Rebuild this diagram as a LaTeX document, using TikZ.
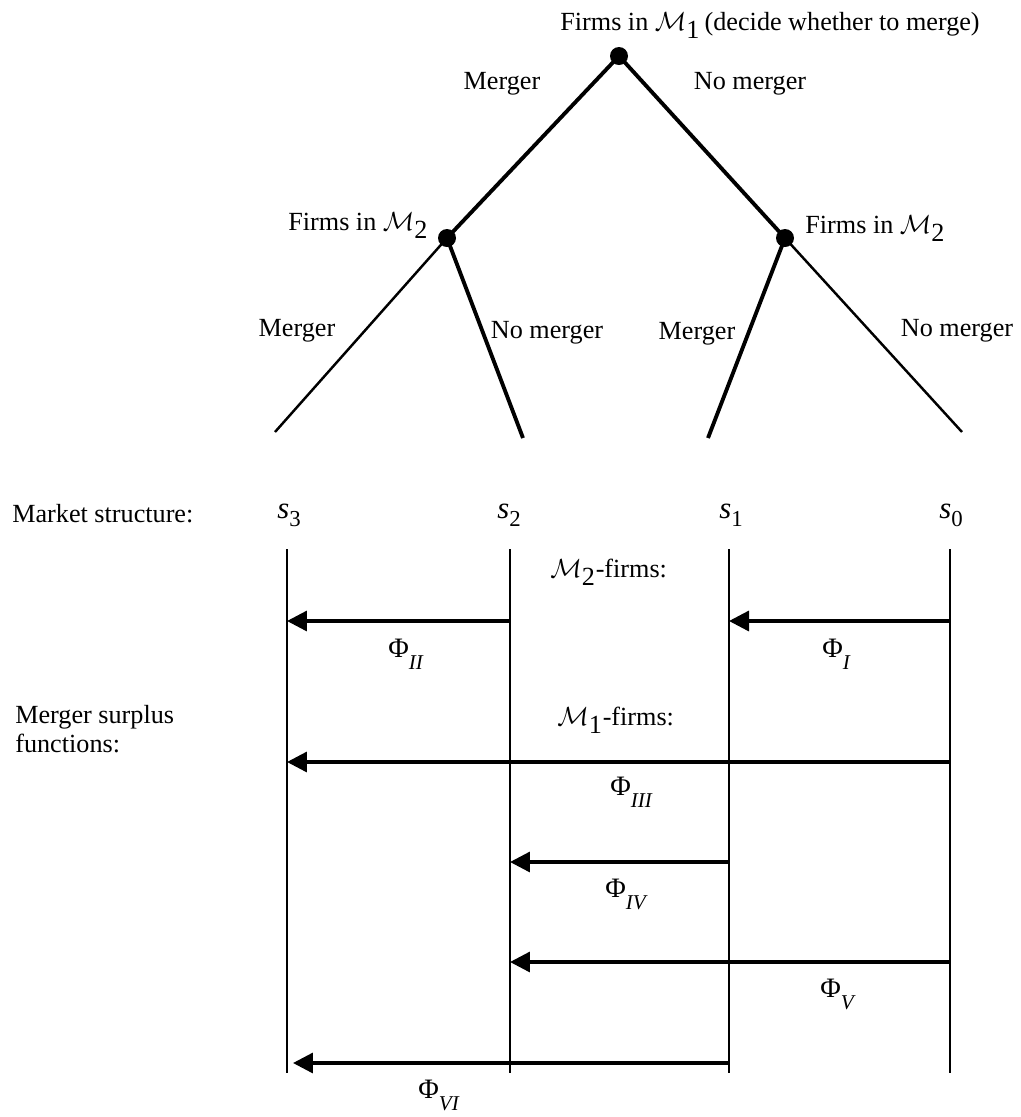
\RequirePackage{fix-cm}
\documentclass[tikz,border=0pt]{standalone}
\usepackage{fontspec}
\setmainfont{Liberation Serif}
\usetikzlibrary{arrows.meta}
\newcommand{\slab}[1]{{\fontsize{17.5}{18}\selectfont\itshape s}\raisebox{-5pt}{\fontsize{13}{13}\selectfont #1}}
\newcommand{\philab}[1]{{\fontsize{16}{16}\selectfont Φ}\raisebox{-7pt}{\fontsize{12}{12}\selectfont\itshape #1}}
\newcommand{\calM}[1]{$\mathcal{M}_{\textstyle\mathrm{#1}}$}
\begin{document}
\begin{tikzpicture}[x=0.02cm,y=-0.02cm,
  txt/.style={font=\fontsize{14.9}{17}\selectfont, inner sep=0},
  dot/.style={circle,fill=black,inner sep=0,minimum size=0.36cm},
  thickedge/.style={line width=2.2pt},
  thinedge/.style={line width=1.4pt},
  vline/.style={line width=1.3pt},
  arr/.style={line width=1.9pt,-{Triangle[length=0.4cm,width=0.4cm]}}]
\useasboundingbox (0,0) rectangle (1021,1117);
% tree
\node[dot] (top) at (619,56) {};
\node[dot] (L) at (447,238) {};
\node[dot] (R) at (785,238) {};
\coordinate (LL) at (275,432);
\coordinate (LR) at (523,438);
\coordinate (RL) at (708,438);
\coordinate (RR) at (962,432);
\draw[thickedge] (top.center) -- (L.center);
\draw[thickedge] (top.center) -- (R.center);
\draw[thinedge] (L.center) -- (LL);
\draw[thickedge] (L.center) -- (LR);
\draw[thickedge] (R.center) -- (RL);
\draw[thinedge] (R.center) -- (RR);
\node[txt,anchor=base west] (ttop) at (560,30) {Firms in \calM{1}\,(decide whether to merge)};
\node[txt,anchor=base] (m1) at (502,89) {Merger};
\node[txt,anchor=base] (n1) at (750,89) {No merger};
\node[txt,anchor=base west] (tl) at (288,230) {Firms in \calM{2}};
\node[txt,anchor=base west] (tr) at (805,233) {Firms in \calM{2}};
\node[txt,anchor=base] (m2) at (297,336) {Merger};
\node[txt,anchor=base] (n2) at (547,338) {No merger};
\node[txt,anchor=base] (m3) at (697,339) {Merger};
\node[txt,anchor=base] (n3) at (957,336) {No merger};
% market structures
\node[txt,anchor=base west] (ms) at (12,522) {Market structure:};
\node[txt,anchor=base] (s3) at (289,518) {\slab{3}};
\node[txt,anchor=base] (s2) at (509,518) {\slab{2}};
\node[txt,anchor=base] (s1) at (731,518) {\slab{1}};
\node[txt,anchor=base] (s0) at (951,518) {\slab{0}};
\coordinate (t3) at (287,549); \coordinate (b3) at (287,1073);
\coordinate (t2) at (510,549); \coordinate (b2) at (510,1073);
\coordinate (t1) at (729,549); \coordinate (b1) at (729,1073);
\coordinate (t0) at (950,549); \coordinate (b0) at (950,1073);
\draw[vline] (t3) -- (b3);
\draw[vline] (t2) -- (b2);
\draw[vline] (t1) -- (b1);
\draw[vline] (t0) -- (b0);
\node[txt,anchor=base west] (f2) at (550,577) {\calM{2}-firms:};
\node[txt,anchor=base west] (f1) at (557,725) {\calM{1}-firms:};
\node[txt,anchor=base west] (msf1) at (15,723) {Merger surplus};
\node[txt,anchor=base west] (msf2) at (15,752) {functions:};
% arrows
\coordinate (p1s) at (950,621); \coordinate (p1e) at (729,621);
\coordinate (p2s) at (510,621); \coordinate (p2e) at (287,621);
\coordinate (p3s) at (950,762); \coordinate (p3e) at (287,762);
\coordinate (p4s) at (729,862); \coordinate (p4e) at (510,862);
\coordinate (p5s) at (950,962); \coordinate (p5e) at (510,962);
\coordinate (p6s) at (729,1063); \coordinate (p6e) at (293,1063);
\draw[arr] (p1s) -- (p1e);
\draw[arr] (p2s) -- (p2e);
\draw[arr] (p3s) -- (p3e);
\draw[arr] (p4s) -- (p4e);
\draw[arr] (p5s) -- (p5e);
\draw[arr] (p6s) -- (p6e);
\node[txt,anchor=base west] (phi1) at (822,657) {\philab{I}};
\node[txt,anchor=base west] (phi2) at (388,657) {\philab{II}};
\node[txt,anchor=base west] (phi3) at (610,795) {\philab{III}};
\node[txt,anchor=base west] (phi4) at (605,897) {\philab{IV}};
\node[txt,anchor=base west] (phi5) at (820,997) {\philab{V}};
\node[txt,anchor=base west] (phi6) at (418,1098) {\philab{VI}};
\end{tikzpicture}
\end{document}
